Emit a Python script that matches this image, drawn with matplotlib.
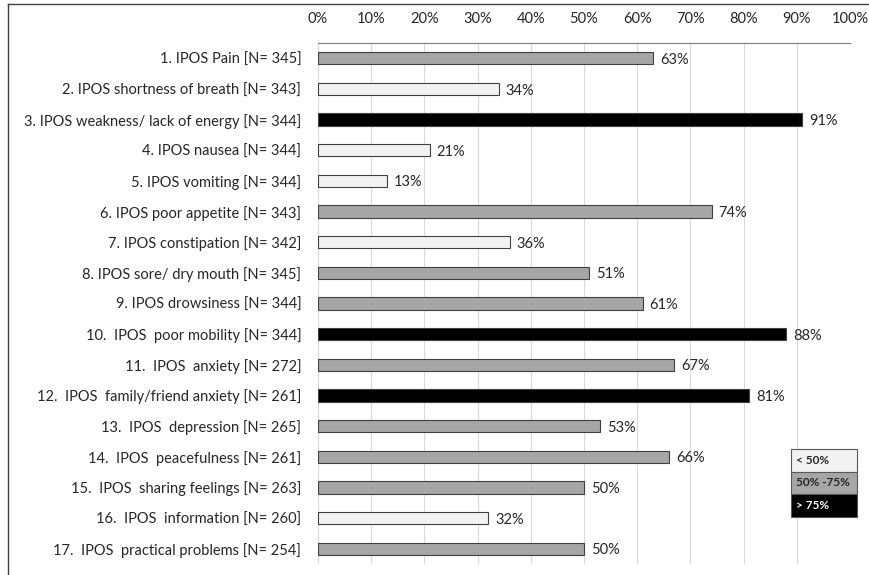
import matplotlib.pyplot as plt
from matplotlib.patches import Rectangle

plt.rcParams['font.family'] = ['Lato', 'DejaVu Sans']

labels = [
    '1. IPOS Pain [N= 345]',
    '2. IPOS shortness of breath [N= 343]',
    '3. IPOS weakness/ lack of energy [N= 344]',
    '4. IPOS nausea [N= 344]',
    '5. IPOS vomiting [N= 344]',
    '6. IPOS poor appetite [N= 343]',
    '7. IPOS constipation [N= 342]',
    '8. IPOS sore/ dry mouth [N= 345]',
    '9. IPOS drowsiness [N= 344]',
    '10.  IPOS  poor mobility [N= 344]',
    '11.  IPOS  anxiety [N= 272]',
    '12.  IPOS  family/friend anxiety [N= 261]',
    '13.  IPOS  depression [N= 265]',
    '14.  IPOS  peacefulness [N= 261]',
    '15.  IPOS  sharing feelings [N= 263]',
    '16.  IPOS  information [N= 260]',
    '17.  IPOS  practical problems [N= 254]',
]
values = [63, 34, 91, 21, 13, 74, 36, 51, 61, 88, 67, 81, 53, 66, 50, 32, 50]

legend_labels = ['< 50%', '50% -75%', '> 75%']
legend_colors = ['#f2f2f2', '#a6a6a6', '#000000']


def bar_color(v):
    if v < 50:
        return legend_colors[0]
    if v <= 75:
        return legend_colors[1]
    return legend_colors[2]


fig = plt.figure(figsize=(8.7, 5.75), dpi=100)
ax = fig.add_axes([318 / 870, 1 - 564 / 575, 532 / 870, 521 / 575])

ypos = list(range(len(values)))
colors = [bar_color(v) for v in values]
ax.barh(ypos, values, height=0.4, color=colors, edgecolor='#404040',
        linewidth=0.8, zorder=3)

for y, v in zip(ypos, values):
    ax.text(v + 1.3, y + 0.05, f'{v}%', va='center', ha='left', fontsize=10.5,
            color='#262626')

ax.set_xlim(0, 100)
ax.set_ylim(len(values) - 0.5, -0.5)
ax.set_xticks(range(0, 101, 10))
ax.set_xticklabels([f'{t}%' for t in range(0, 101, 10)])
ax.xaxis.tick_top()
ax.set_yticks(ypos)
ax.set_yticklabels(labels)
ax.tick_params(axis='both', length=0, labelsize=10.5, colors='#262626')
ax.tick_params(axis='x', pad=12)
ax.tick_params(axis='y', pad=12)
ax.grid(axis='x', color='#d9d9d9', linewidth=0.8, zorder=0)
for side in ['left', 'right', 'bottom']:
    ax.spines[side].set_visible(False)
ax.spines['top'].set_color('#7f7f7f')
ax.spines['top'].set_linewidth(0.8)

# colour key in the lower right
x0, w, h = 791 / 870, 66 / 870, 22.5 / 575
top = 1 - 449 / 575
text_colors = ['#262626', '#262626', 'white']
for i, (lab, c) in enumerate(zip(legend_labels, legend_colors)):
    yb = top - (i + 1) * h
    fig.patches.append(Rectangle((x0, yb), w, h, transform=fig.transFigure,
                                 facecolor=c, edgecolor='#595959', linewidth=0.8))
    fig.text(x0 + 5 / 870, yb + h / 2, lab, ha='left', va='center',
             fontsize=8.5, fontweight='bold', color=text_colors[i])

# outer frame lines
fig.add_artist(plt.Line2D([8 / 870, 8 / 870], [0, 1 - 4 / 575],
                          transform=fig.transFigure, color='#404040', linewidth=1))
fig.add_artist(plt.Line2D([8 / 870, 1], [1 - 4 / 575, 1 - 4 / 575],
                          transform=fig.transFigure, color='#404040', linewidth=1))

plt.savefig('out.png', dpi=100)
